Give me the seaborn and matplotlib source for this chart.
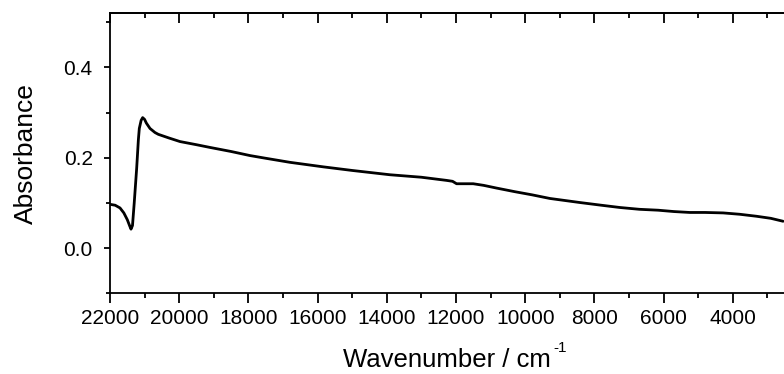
import matplotlib
matplotlib.use("Agg")
import matplotlib.pyplot as plt
from matplotlib.ticker import MultipleLocator, FixedLocator
import seaborn as sns
import pandas as pd

wavenumber = [22000, 21850, 21711, 21600, 21500, 21430, 21393, 21350, 21300, 21229, 21180,
              21153, 21100, 21056, 21000, 20950, 20844, 20700, 20604, 20300, 19977,
              19500, 19111, 18500, 17955, 17500, 16799, 16510, 15837, 15000, 13910,
              13000, 12272, 12100, 11983, 11502, 11200, 10828, 10300, 9800, 9287,
              8420, 7800, 7264, 6700, 6157, 5700, 5242, 4800,
              4279, 3800, 3315, 2900, 2546]
absorbance = [0.097, 0.095, 0.089, 0.078, 0.063, 0.049, 0.042, 0.050, 0.100, 0.177, 0.240,
              0.265, 0.283, 0.289, 0.285, 0.277, 0.265, 0.256, 0.252, 0.244, 0.236,
              0.229, 0.223, 0.214, 0.205, 0.199, 0.190, 0.187, 0.180, 0.172, 0.1625,
              0.157, 0.150, 0.148, 0.1426, 0.1426, 0.139, 0.133, 0.125, 0.118, 0.110,
              0.101, 0.095, 0.090, 0.086, 0.084, 0.081, 0.079, 0.079,
              0.078, 0.075, 0.0706, 0.066, 0.0595]

x_major = [22000, 20000, 18000, 16000, 14000, 12000, 10000, 8000, 6000, 4000]
y_major = [0.0, 0.2, 0.4]

sns.set_style("ticks")
plt.rcParams['font.family'] = ['Liberation Sans', 'DejaVu Sans']
plt.rcParams['text.color'] = 'black'
plt.rcParams['axes.labelcolor'] = 'black'

df = pd.DataFrame({"w": wavenumber, "a": absorbance})

fig = plt.figure(figsize=(7.84, 3.74), dpi=100)
ax = fig.add_axes([110/784, 1 - 293.3/374, 1 - 110/784, (293.3 - 13.3)/374])
sns.lineplot(data=df, x="w", y="a", ax=ax, color="black", linewidth=2.0,
             estimator=None, sort=False)

ax.set_xlim(22000, 2520)
ax.set_ylim(-0.1, 0.52)
ax.xaxis.set_major_locator(FixedLocator(x_major))
ax.xaxis.set_minor_locator(MultipleLocator(1000))
ax.yaxis.set_major_locator(FixedLocator(y_major))
ax.yaxis.set_minor_locator(MultipleLocator(0.1))
ax.set_xticklabels([str(v) for v in x_major])
ax.set_yticklabels([f"{v:.1f}" for v in y_major])

for s in ["left", "bottom", "top"]:
    ax.spines[s].set_linewidth(1.3)
    ax.spines[s].set_color("black")
ax.spines["right"].set_visible(False)

ax.tick_params(axis="x", which="major", direction="out", length=7.5, width=1.3,
               labelsize=15, pad=4, colors="black")
ax.tick_params(axis="x", which="minor", direction="out", length=3.8, width=1.3,
               colors="black")
ax.tick_params(axis="y", which="major", direction="out", length=4.5, width=1.3,
               labelsize=15, pad=8, colors="black")
ax.tick_params(axis="y", which="minor", direction="out", length=3.0, width=1.3,
               colors="black")

top = ax.secondary_xaxis("top")
top.xaxis.set_major_locator(FixedLocator(x_major))
top.xaxis.set_minor_locator(MultipleLocator(1000))
top.tick_params(axis="x", which="major", direction="in", length=7, width=1.3,
                labeltop=False, colors="black")
top.tick_params(axis="x", which="minor", direction="in", length=3.3, width=1.3,
                colors="black")
top.spines["top"].set_linewidth(1.3)
top.spines["top"].set_color("black")

xl = ax.set_xlabel("Wavenumber / cm", fontsize=18.5, labelpad=14)
ax.set_ylabel("Absorbance", fontsize=19, labelpad=18)

fig.canvas.draw()
bb = xl.get_window_extent(fig.canvas.get_renderer())
fig.text((bb.x1 + 2) / fig.bbox.width, (bb.y1 + 7) / fig.bbox.height, "-1",
         fontsize=11, ha="left", va="top")

fig.savefig("out.png", dpi=100)
